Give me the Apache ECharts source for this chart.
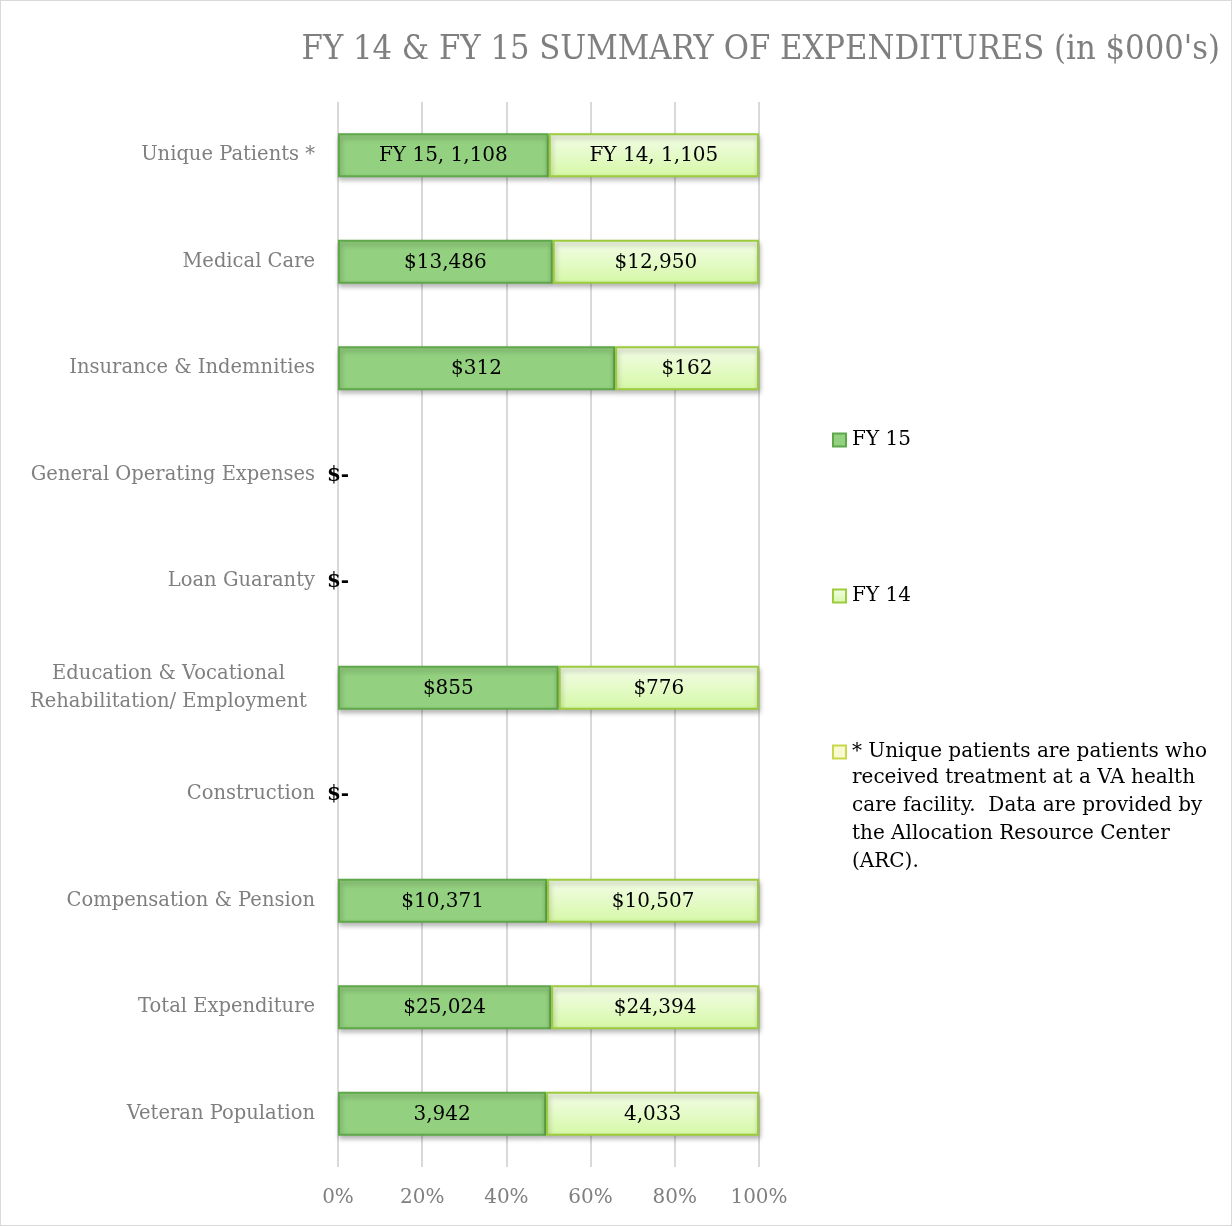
<!DOCTYPE html>
<html>
<head>
<meta charset="utf-8">
<script src="https://cdn.jsdelivr.net/npm/echarts@6/dist/echarts.min.js"></script>
<style>
  html, body { margin: 0; padding: 0; background: #fff; }
  #main { width: 1232px; height: 1226px; box-sizing: border-box; border: 1px solid #d9d9d9; }
</style>
</head>
<body>
<div id="main"></div>
<script>
// chart values
var categories = [
    'Unique Patients *',
    'Medical Care',
    'Insurance & Indemnities',
    'General Operating Expenses',
    'Loan Guaranty',
    'Education & Vocational\nRehabilitation/ Employment',
    'Construction',
    'Compensation & Pension',
    'Total Expenditure',
    'Veteran Population'
];
var fy15 = [1108, 13486, 312, 0, 0, 855, 0, 10371, 25024, 3942];
var fy14 = [1105, 12950, 162, 0, 0, 776, 0, 10507, 24394, 4033];
// '$' in front of money rows, nothing for the head counts
var prefixes = ['', '$', '$', '$', '$', '$', '$', '$', '$', ''];
var noteText = '* Unique patients are patients who\nreceived treatment at a VA health\ncare facility.  Data are provided by\nthe Allocation Resource Center\n(ARC).';

var serif = "'DejaVu Serif', 'Liberation Serif', serif";

function fmt(i, v, name) {
    if (i === 0) return name + ', ' + v.toLocaleString('en-US');
    if (v === 0) return '$-';
    return prefixes[i] + v.toLocaleString('en-US');
}

// build 100% stacked items
function buildData(mine, other, isFirst) {
    var out = [];
    for (var i = 0; i < mine.length; i++) {
        var total = mine[i] + other[i];
        var pct = total ? mine[i] / total * 100 : 0;
        var item = { value: pct, raw: mine[i], idx: i };
        if (total === 0) {
            // empty row: no bar, only the "$-" label
            item.itemStyle = { color: 'rgba(0,0,0,0)', borderWidth: 0, shadowColor: 'rgba(0,0,0,0)' };
            item.label = isFirst
                ? { show: true, position: 'inside', fontWeight: 'bold', color: '#000' }
                : { show: false };
        }
        out.push(item);
    }
    return out;
}

var chartDom = document.getElementById('main');
var myChart = echarts.init(chartDom);

var barShadow = {
    shadowBlur: 5,
    shadowOffsetX: 1,
    shadowOffsetY: 3,
    shadowColor: 'rgba(0,0,0,0.3)'
};

var legendText = { fontFamily: serif, fontSize: 20, color: '#000', padding: [0, 0, 0, 1] };

var option = {
    animation: false,
    title: {
        text: "FY 14 & FY 15 SUMMARY OF EXPENDITURES (in $000's)",
        right: 6,
        top: 27,
        textStyle: {
            fontFamily: "'DejaVu Serif Condensed', 'Liberation Serif', serif",
            fontWeight: 'normal',
            fontSize: 34.2,
            color: '#7f7f7f'
        }
    },
    legend: [
        {
            data: ['FY 15'], left: 826, top: 424, orient: 'vertical', icon: 'rect',
            itemWidth: 13, itemHeight: 13, itemGap: 0,
            textStyle: legendText
        },
        {
            data: ['FY 14'], left: 826, top: 580, orient: 'vertical', icon: 'rect',
            itemWidth: 13, itemHeight: 13, itemGap: 0,
            textStyle: legendText
        },
        {
            data: [noteText], left: 826, top: 736, orient: 'vertical', icon: 'rect',
            itemWidth: 13, itemHeight: 13, itemGap: 0,
            formatter: function (n) { return n.split('\n')[0]; },
            textStyle: legendText
        }
    ],
    graphic: [{
        type: 'text',
        left: 851,
        top: 763,
        style: {
            text: noteText.split('\n').slice(1).join('\n'),
            font: "20px 'DejaVu Serif', 'Liberation Serif', serif",
            lineHeight: 28,
            fill: '#000'
        }
    }],
    grid: {
        left: 337,
        right: 472,
        top: 101,
        bottom: 58,
        containLabel: false
    },
    xAxis: {
        type: 'value',
        min: 0,
        max: 100,
        interval: 20,
        axisLine: { show: false },
        axisTick: { show: false },
        splitLine: { lineStyle: { color: '#d9d9d9', width: 2 } },
        axisLabel: {
            formatter: '{value}%',
            margin: 21,
            fontFamily: serif,
            fontSize: 20,
            color: '#7f7f7f'
        }
    },
    yAxis: {
        type: 'category',
        inverse: true,
        data: categories,
        axisLine: { show: false },
        axisTick: { show: false },
        axisLabel: {
            margin: 23,
            fontFamily: serif,
            fontSize: 19.5,
            color: '#7f7f7f',
            lineHeight: 28,
            formatter: function (v) {
                if (v.indexOf('\n') < 0) return v;
                return v.split('\n').map(function (s) { return '{c|' + s + '}'; }).join('\n');
            },
            rich: {
                c: { width: 293, align: 'center', fontFamily: serif, fontSize: 19.5, color: '#7f7f7f', lineHeight: 28 }
            }
        }
    },
    series: [
        {
            name: 'FY 15',
            type: 'bar',
            stack: 'all',
            barWidth: 44,
            data: buildData(fy15, fy14, true),
            itemStyle: Object.assign({
                color: '#93d07f',
                borderColor: '#5fa84a',
                borderWidth: 2
            }, barShadow),
            label: {
                show: true,
                position: 'inside',
                offset: [0, 1],
                fontFamily: serif,
                fontSize: 20,
                color: '#000',
                formatter: function (p) { return fmt(p.data.idx, p.data.raw, 'FY 15'); }
            }
        },
        {
            name: 'FY 14',
            type: 'bar',
            stack: 'all',
            barWidth: 44,
            data: buildData(fy14, fy15, false),
            itemStyle: Object.assign({
                color: new echarts.graphic.LinearGradient(0, 0, 0, 1, [
                    { offset: 0, color: '#f4fde9' },
                    { offset: 1, color: '#d5f8a6' }
                ]),
                borderColor: '#9ccc3c',
                borderWidth: 2
            }, barShadow),
            label: {
                show: true,
                position: 'inside',
                offset: [0, 1],
                fontFamily: serif,
                fontSize: 20,
                color: '#000',
                formatter: function (p) { return fmt(p.data.idx, p.data.raw, 'FY 14'); }
            }
        },
        {
            name: noteText,
            type: 'bar',
            stack: 'all',
            data: [],
            itemStyle: { color: '#f8fbd2', borderColor: '#c9d84a', borderWidth: 2 }
        }
    ]
};

myChart.setOption(option);
</script>
</body>
</html>
